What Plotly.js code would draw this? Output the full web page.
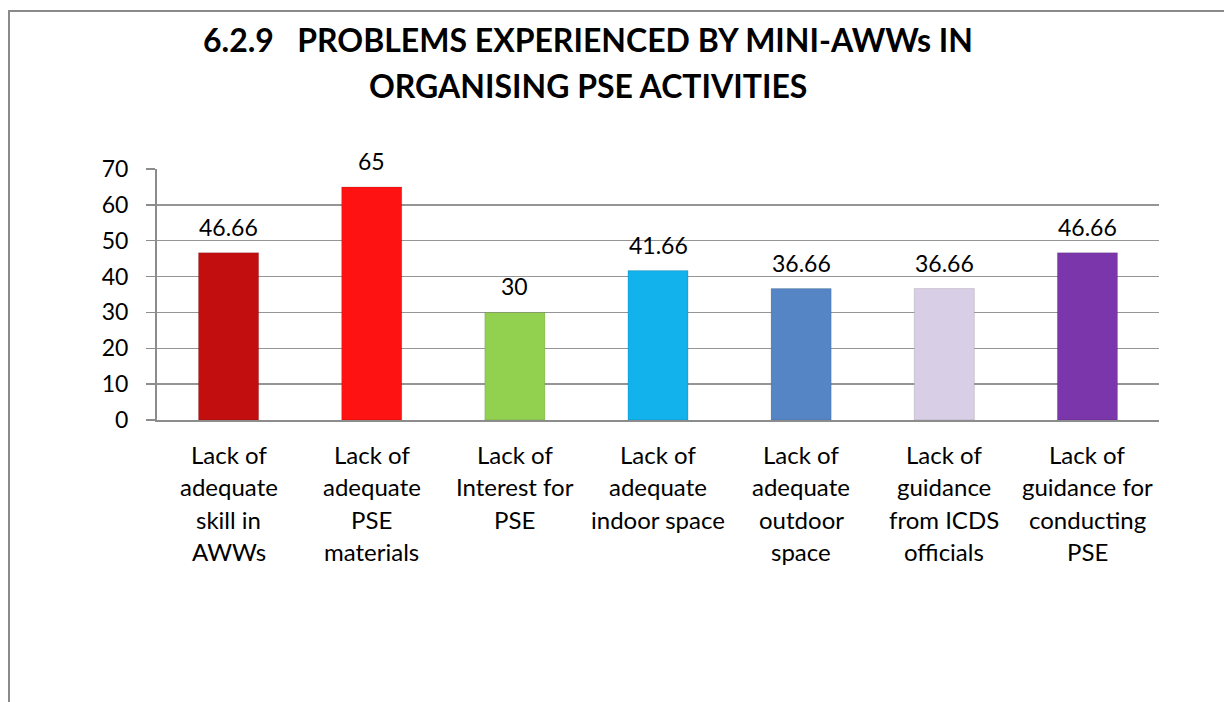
<!DOCTYPE html>
<html>
<head>
<meta charset="utf-8">
<script src="https://cdn.plot.ly/plotly-3.0.1.min.js"></script>
<style>html,body{margin:0;padding:0;background:#fff;}#chart{width:1224px;height:702px;}</style>
</head>
<body>
<div id="chart"></div>
<script>
// ---- data ----
const categories = [
  "Lack of<br>adequate<br>skill in<br>AWWs",
  "Lack of<br>adequate<br>PSE<br>materials",
  "Lack of<br>Interest for<br>PSE",
  "Lack of<br>adequate<br>indoor space",
  "Lack of<br>adequate<br>outdoor<br>space",
  "Lack of<br>guidance<br>from ICDS<br>officials",
  "Lack of<br>guidance for<br>conducting<br>PSE"
];
const values = [46.66, 65, 30, 41.66, 36.66, 36.66, 46.66];
const valueLabels = ["46.66", "65", "30", "41.66", "36.66", "36.66", "46.66"];
const barColors = ["#C20E0E", "#FF1212", "#92D050", "#12B2EC", "#5585C4", "#D8CFE6", "#7A36AA"];
const titleLines = ["6.2.9\u00a0\u00a0\u00a0PROBLEMS EXPERIENCED BY MINI-AWWs IN", "ORGANISING PSE ACTIVITIES"];
const yTicks = [0, 10, 20, 30, 40, 50, 60, 70];

// ---- layout helpers ----
const FONT = "Lato, 'Open Sans', sans-serif";
const xIdx = categories.map((c, i) => i);

const annotations = [];
// value labels
values.forEach((v, i) => {
  annotations.push({
    x: i, y: v, xref: "x", yref: "y", text: valueLabels[i], showarrow: false,
    yanchor: "middle", yshift: 26, font: {family: FONT, size: 23, color: "#000"}
  });
});
// category labels (line by line)
categories.forEach((c, i) => {
  c.split("<br>").forEach((line, j) => {
    annotations.push({
      x: i, y: 0, xref: "x", yref: "paper", text: line, showarrow: false,
      yanchor: "middle", yshift: -34 - 32.5 * j, font: {family: FONT, size: 24, color: "#000"}
    });
  });
});
// title lines
const titleY = [39, 85];
titleLines.forEach((t, j) => {
  annotations.push({
    x: (588 - 157) / 1002, y: (420 - titleY[j]) / 251, xref: "paper", yref: "paper",
    text: "<b>" + t + "</b>", showarrow: false, xanchor: "center", yanchor: "middle",
    font: {family: FONT, size: 32, color: "#000"}
  });
});

const trace = {
  type: "bar",
  x: xIdx,
  y: values,
  width: 0.42,
  marker: {color: barColors, line: {color: "rgba(0,0,0,0.12)", width: 1}},
  hoverinfo: "y"
};

const layout = {
  width: 1224, height: 702,
  margin: {l: 157, r: 65, t: 169, b: 282},
  paper_bgcolor: "#fff", plot_bgcolor: "#fff",
  showlegend: false,
  font: {family: FONT, size: 23, color: "#000"},
  xaxis: {
    range: [-0.5, 6.5], showticklabels: false, ticks: "", showgrid: false,
    showline: true, linecolor: "#8c8c8c", linewidth: 2, zeroline: false, fixedrange: true
  },
  yaxis: {
    range: [0, 70], tickvals: yTicks, ticktext: yTicks.map(String),
    showgrid: true, gridcolor: "#959595", gridwidth: 1.5,
    showline: true, linecolor: "#8c8c8c", linewidth: 2,
    ticks: "outside", ticklen: 9, tickcolor: "#8c8c8c", tickwidth: 1.5,
    ticklabelstandoff: 13, zeroline: false,
    tickfont: {family: FONT, size: 23, color: "#000"}, fixedrange: true
  },
  annotations: annotations,
  shapes: [{
    type: "rect", xref: "paper", yref: "paper", layer: "below",
    x0: (9 - 157) / 1002, x1: 1.3, y0: -1.5, y1: (420 - 11) / 251,
    line: {color: "#8a8a8a", width: 2}, fillcolor: "rgba(0,0,0,0)"
  }]
};

Plotly.newPlot("chart", [trace], layout, {displayModeBar: false, staticPlot: true});
</script>
</body>
</html>
